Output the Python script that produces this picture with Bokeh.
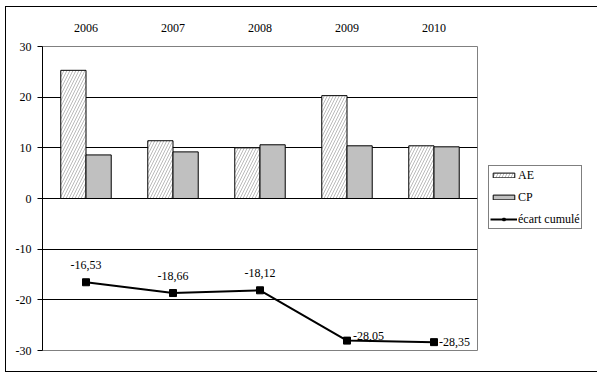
from bokeh.plotting import figure
from bokeh.models import (FactorRange, Legend, LegendItem, LinearAxis, CategoricalAxis, FixedTicker,
                          ColumnDataSource, PrintfTickFormatter)
from bokeh.transform import dodge
from bokeh.core.properties import value
from bokeh.embed import file_html
from bokeh.resources import INLINE

years = ["2006", "2007", "2008", "2009", "2010"]
ae = [25.3, 11.4, 10.0, 20.3, 10.4]
cp = [8.6, 9.2, 10.6, 10.4, 10.2]
ecart = [-16.53, -18.66, -18.12, -28.05, -28.35]
y_ticks = [-30, -20, -10, 0, 10, 20, 30]

labels = [f"{v:.2f}".replace(".", ",") for v in ecart]
FONT = "'Liberation Serif', 'Times New Roman', serif"

src = ColumnDataSource(dict(year=years, ae=ae, cp=cp, ecart=ecart, lab=labels))

p = figure(x_range=FactorRange(*years), y_range=(-30, 30),
           frame_width=435, frame_height=304,
           min_border_left=36, min_border_top=39, min_border_bottom=21, min_border_right=115,
           output_backend="svg", toolbar_location=None,
           x_axis_location=None, y_axis_location=None)
p.styles = {"border": "1px solid black", "margin-left": "5px", "margin-top": "6px"}
p.background_fill_color = "white"
p.border_fill_color = "white"
p.outline_line_color = "#808080"
p.outline_line_width = 1

yaxis = LinearAxis(ticker=FixedTicker(ticks=y_ticks), formatter=PrintfTickFormatter(format="%d"))
yaxis.major_tick_out = 5
yaxis.major_tick_in = 0
yaxis.minor_tick_out = 0
yaxis.minor_tick_in = 0
yaxis.axis_line_color = "black"
yaxis.major_tick_line_color = "black"
yaxis.major_label_text_font = FONT
yaxis.major_label_text_font_size = "12px"
yaxis.major_label_text_color = "black"
yaxis.major_label_standoff = 6
p.add_layout(yaxis, "left")

xaxis = CategoricalAxis()
xaxis.axis_line_color = None
xaxis.major_tick_line_color = None
xaxis.minor_tick_line_color = None
xaxis.major_tick_out = 0
xaxis.major_label_standoff = 15
xaxis.major_label_text_font = FONT
xaxis.major_label_text_font_size = "12px"
xaxis.major_label_text_color = "black"
p.add_layout(xaxis, "above")

p.xgrid.grid_line_color = None
p.ygrid.ticker = FixedTicker(ticks=[-20, -10, 0, 10, 20, 30])
p.ygrid.grid_line_color = "black"
p.ygrid.grid_line_width = 1

r_ae = p.vbar(x=dodge("year", -0.145, range=p.x_range), top="ae", bottom=0, width=0.29,
              source=src, fill_color="white", line_color="black", line_width=1,
              hatch_pattern="/", hatch_color="#8c8c8c", hatch_scale=6, hatch_weight=0.6)
r_cp = p.vbar(x=dodge("year", 0.145, range=p.x_range), top="cp", bottom=0, width=0.29,
              source=src, fill_color="#C0C0C0", line_color="black", line_width=1)

r_line = p.line(x="year", y="ecart", source=src, line_color="black", line_width=2)
r_mk = p.scatter(x="year", y="ecart", source=src, marker="square", size=7,
                 fill_color="black", line_color="black")

p.text(x=years[:3], y=ecart[:3], text=labels[:3], text_align="center", text_baseline="middle",
       y_offset=-17, text_font=value(FONT), text_font_size="12px", text_color="black")
p.text(x=years[3:4], y=ecart[3:4], text=labels[3:4], text_align="left", text_baseline="middle",
       x_offset=6, y_offset=-5, text_font=value(FONT), text_font_size="12px", text_color="black")
p.text(x=years[4:], y=ecart[4:], text=labels[4:], text_align="left", text_baseline="middle",
       x_offset=5, y_offset=0, text_font=value(FONT), text_font_size="12px", text_color="black")

legend = Legend(items=[LegendItem(label="AE", renderers=[r_ae]),
                       LegendItem(label="CP", renderers=[r_cp]),
                       LegendItem(label="écart cumulé", renderers=[r_line, r_mk])],
                location=(11, 121), orientation="vertical")
legend.glyph_width = 27
legend.glyph_height = 6
legend.label_height = 16
legend.label_standoff = 1
legend.spacing = 6
legend.padding = 1
legend.margin = 0
legend.border_line_color = "black"
legend.border_line_width = 1
legend.background_fill_color = "white"
legend.label_text_font = FONT
legend.label_text_font_size = "12px"
legend.label_text_color = "black"
p.add_layout(legend, "right")

open("out.html", "w").write(file_html(p, INLINE))
